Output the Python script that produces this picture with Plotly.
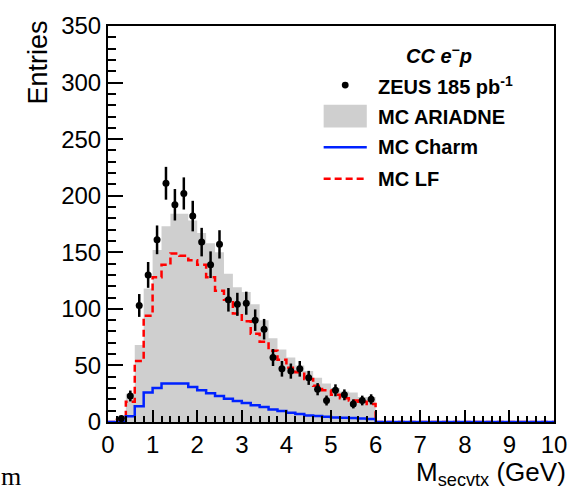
import numpy as np
import plotly.graph_objects as go

# ---- data (bins of 0.2 GeV from 0.2 to 6.0) ----
bin_lo = 0.2
bin_w = 0.2
data_entries = [3, 23, 103, 130, 161, 211, 192, 202, 182, 159, 139, 157, 108, 104, 105,
                90, 82, 57, 47, 45, 47, 39, 29, 19, 28, 24, 16, 19, 20]
data_errors = [1.7, 4.8, 10.1, 11.4, 12.7, 14.5, 13.9, 14.2, 13.5, 12.6, 11.8, 12.5, 10.4, 10.2, 10.2,
               9.5, 9.1, 7.5, 6.9, 6.7, 6.9, 6.2, 5.4, 4.4, 5.3, 4.8, 4.0, 4.3, 4.5]
mc_ariadne = [3, 25, 68, 118, 152, 173, 184, 184, 178, 167, 158, 150, 131, 119, 115,
              104, 90, 74, 64, 57, 50, 45, 39, 34, 30, 27, 26, 22, 22]
mc_lf = [2, 18, 54, 94, 128, 139, 149, 147, 143, 139, 128, 116, 108, 96, 89,
         78, 71, 63, 55, 48, 44, 38, 32, 28, 24, 21, 19, 18, 16]
mc_charm = [0, 5, 14, 26, 30, 34, 34, 34, 31, 28, 25.5, 23, 20.6, 18.5, 16.8,
            14.8, 13.3, 11, 9.8, 8.1, 7, 5.8, 5.2, 4.6, 4, 3.8, 3.5, 3, 2.6]

x_ticks = [0, 1, 2, 3, 4, 5, 6, 7, 8, 9, 10]
y_ticks = [0, 50, 100, 150, 200, 250, 300, 350]

n = len(data_entries)
edges = bin_lo + bin_w * np.arange(n + 1)
centers = edges[:-1] + bin_w / 2

# full range 0..10 for the line histograms
full_edges = bin_w * np.arange(0, 51)
pad_lo = int(round(bin_lo / bin_w))
pad_hi = len(full_edges) - 1 - pad_lo - n


def full(vals):
    v = [0] * pad_lo + list(vals) + [0] * pad_hi
    return list(full_edges), v + [v[-1]]


fig = go.Figure()

# MC ARIADNE filled histogram
fig.add_trace(go.Scatter(
    x=list(edges), y=list(mc_ariadne) + [mc_ariadne[-1]],
    mode="lines", line=dict(shape="hv", width=0, color="rgba(0,0,0,0)"),
    fill="tozeroy", fillcolor="#cfcfcf", showlegend=False, hoverinfo="skip"))

# MC LF
xl, yl = full(mc_lf)
fig.add_trace(go.Scatter(
    x=xl, y=yl, mode="lines",
    line=dict(shape="hv", width=2.5, color="#ff0000", dash="7px,4px"),
    showlegend=False))

# MC Charm
xc, yc = full(mc_charm)
fig.add_trace(go.Scatter(
    x=xc, y=yc, mode="lines",
    line=dict(shape="hv", width=2.5, color="#0022ff"),
    showlegend=False))

# Data
fig.add_trace(go.Scatter(
    x=centers, y=data_entries, mode="markers",
    marker=dict(color="black", size=7),
    error_y=dict(type="data", array=data_errors, visible=True, color="black",
                 thickness=2.5, width=0),
    showlegend=False))

L, R, T, B = 108, 16, 20, 69
W, H = 579, 491
pw, ph = W - L - R, H - T - B


def px(xp):
    return (xp - L) / pw


def py(yp):
    return (H - B - yp) / ph


legend_font = dict(family="Liberation Sans", size=20, color="black")
ann = []
ann.append(dict(x=px(446), y=py(49), xref="paper", yref="paper",
                text="<b><i>CC e</i></b><sup><b>−</b></sup><b><i>p</i></b>",
                showarrow=False, xanchor="center", yanchor="middle", font=legend_font))
rows = [("<b>ZEUS 185 pb</b><sup><b>-1</b></sup>", 80),
        ("<b>MC ARIADNE</b>", 112),
        ("<b>MC Charm</b>", 143),
        ("<b>MC LF</b>", 175)]
for txt, yy in rows:
    ann.append(dict(x=px(381), y=py(yy), xref="paper", yref="paper", text=txt,
                    showarrow=False, xanchor="left", yanchor="middle", font=legend_font))

# axis titles
ann.append(dict(x=px(577), y=py(474), xref="paper", yref="paper",
                text="M<sub>secvtx</sub> (GeV)", showarrow=False,
                xanchor="right", yanchor="middle",
                font=dict(family="Liberation Sans", size=26, color="black")))
ann.append(dict(x=px(37), y=py(12), xref="paper", yref="paper",
                text="Entries", showarrow=False, textangle=-90,
                xanchor="center", yanchor="top",
                font=dict(family="Liberation Sans", size=27, color="black")))
# stray text fragment at bottom-left
ann.append(dict(x=px(-3), y=py(477), xref="paper", yref="paper",
                text="m", showarrow=False, xanchor="left", yanchor="middle",
                font=dict(family="Liberation Serif", size=26, color="black")))

shapes = []
# legend symbols
r = 3.5
shapes.append(dict(type="circle", xref="paper", yref="paper",
                   x0=px(350 - r), x1=px(350 + r), y0=py(80 + r), y1=py(80 - r),
                   fillcolor="black", line=dict(width=0)))
shapes.append(dict(type="rect", xref="paper", yref="paper",
                   x0=px(328), x1=px(372), y0=py(123), y1=py(100),
                   fillcolor="#cfcfcf", line=dict(width=0)))
shapes.append(dict(type="line", xref="paper", yref="paper",
                   x0=px(328), x1=px(372), y0=py(143), y1=py(143),
                   line=dict(color="#0022ff", width=2.5)))
shapes.append(dict(type="line", xref="paper", yref="paper",
                   x0=px(328), x1=px(372), y0=py(175), y1=py(175),
                   line=dict(color="#ff0000", width=2.5, dash="7px,4px")))

tick_font = dict(family="Liberation Sans", size=24, color="black")
fig.update_layout(
    width=W, height=H,
    margin=dict(l=L, r=R, t=T, b=B, pad=0),
    paper_bgcolor="white", plot_bgcolor="white",
    annotations=ann, shapes=shapes,
    xaxis=dict(range=[0, 10], tickvals=x_ticks, ticktext=[str(v) for v in x_ticks],
               ticks="inside", ticklen=12, tickwidth=1.5, tickcolor="black",
               minor=dict(dtick=0.2, ticks="inside", ticklen=6, tickwidth=1.5, tickcolor="black"),
               showline=True, linecolor="black", linewidth=2, mirror=True,
               showgrid=False, zeroline=False, tickfont=tick_font),
    yaxis=dict(range=[0, 350], tickvals=y_ticks, ticktext=[str(v) for v in y_ticks],
               ticks="inside", ticklen=15, tickwidth=1.5, tickcolor="black",
               minor=dict(dtick=10, ticks="inside", ticklen=8, tickwidth=1.5, tickcolor="black"),
               showline=True, linecolor="black", linewidth=2, mirror=True,
               showgrid=False, zeroline=False, tickfont=tick_font),
)

fig.write_html("out.html")
